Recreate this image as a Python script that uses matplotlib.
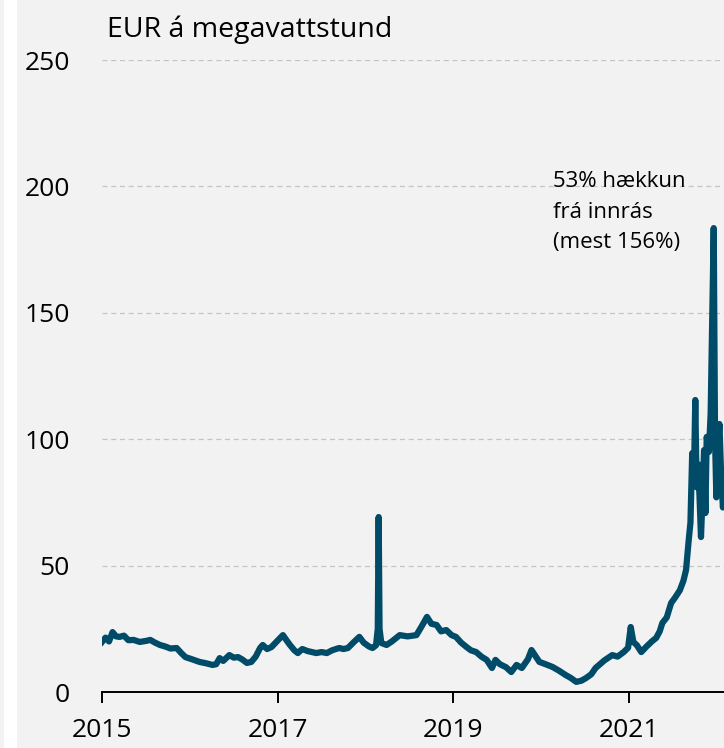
import matplotlib.pyplot as plt
import matplotlib.patches as mpatches
import numpy as np

plt.rcParams["font.family"] = ["Open Sans", "DejaVu Sans"]

# verð á rafmagni, EUR á MWh (lesið af mynd)
years = [2015.00, 2015.04, 2015.08, 2015.12, 2015.16, 2015.20, 2015.25, 2015.30, 2015.36, 2015.43,
         2015.50, 2015.55, 2015.60, 2015.66, 2015.72, 2015.78, 2015.85, 2015.90, 2015.95, 2016.02,
         2016.11, 2016.18, 2016.26, 2016.30, 2016.34, 2016.38, 2016.45, 2016.50, 2016.55, 2016.60,
         2016.65, 2016.70, 2016.75, 2016.80, 2016.83, 2016.88, 2016.93, 2016.99, 2017.06, 2017.10,
         2017.14, 2017.19, 2017.23, 2017.28, 2017.34, 2017.44, 2017.50, 2017.56, 2017.62, 2017.70,
         2017.75, 2017.80, 2017.86, 2017.93, 2017.98, 2018.04, 2018.08, 2018.12, 2018.14, 2018.15,
         2018.16, 2018.18, 2018.24, 2018.30, 2018.39, 2018.48, 2018.58, 2018.64, 2018.70, 2018.75,
         2018.81, 2018.86, 2018.92, 2018.98, 2019.03, 2019.09, 2019.15, 2019.20, 2019.26, 2019.32,
         2019.38, 2019.44, 2019.48, 2019.53, 2019.60, 2019.66, 2019.72, 2019.78, 2019.85, 2019.89,
         2019.93, 2019.98, 2020.05, 2020.13, 2020.20, 2020.28, 2020.34, 2020.40, 2020.46, 2020.51,
         2020.57, 2020.62, 2020.66, 2020.72, 2020.81, 2020.87, 2020.94, 2020.99, 2021.02, 2021.05,
         2021.09, 2021.14, 2021.20, 2021.26, 2021.31, 2021.35, 2021.38, 2021.43, 2021.48, 2021.53,
         2021.58, 2021.62, 2021.65, 2021.68, 2021.70, 2021.72, 2021.74, 2021.755, 2021.77, 2021.79,
         2021.82, 2021.84, 2021.855, 2021.87, 2021.885, 2021.91, 2021.93, 2021.965, 2021.98, 2021.995,
         2022.01, 2022.03, 2022.05, 2022.07, 2022.10]
prices = [19.8, 21.5, 20.0, 23.7, 22.0, 21.8, 22.3, 20.5, 20.6, 19.8,
          20.2, 20.6, 19.6, 18.6, 18.0, 17.2, 17.4, 15.5, 13.8, 13.0,
          11.9, 11.4, 10.7, 11.0, 13.4, 12.3, 14.6, 13.6, 13.8, 12.8,
          11.5, 11.9, 14.0, 17.4, 18.6, 17.0, 17.8, 20.0, 22.5, 20.5,
          18.6, 16.5, 15.4, 17.0, 16.2, 15.4, 15.8, 15.4, 16.5, 17.4,
          17.0, 17.4, 19.5, 21.8, 19.5, 18.0, 17.4, 18.5, 25.0, 69.2,
          25.0, 19.4, 18.6, 20.0, 22.5, 22.0, 22.5, 26.0, 29.7, 27.0,
          26.5, 24.0, 24.5, 22.5, 21.8, 19.5, 17.8, 16.5, 15.8, 14.0,
          12.7, 9.5, 12.7, 11.0, 9.8, 7.9, 10.7, 9.5, 13.0, 16.6,
          14.5, 11.9, 11.0, 9.9, 8.5, 6.7, 5.5, 4.0, 4.5, 5.5,
          7.0, 9.5, 10.7, 12.5, 14.6, 14.0, 15.8, 17.5, 25.7, 19.8,
          18.5, 15.8, 18.0, 20.0, 21.4, 24.0, 27.3, 29.5, 35.2, 37.6,
          40.3, 44.0, 48.3, 60.0, 67.0, 94.5, 85.0, 115.5, 81.0, 90.0,
          61.3, 80.0, 95.7, 70.8, 100.9, 95.0, 110.0, 183.5, 100.0, 77.0,
          95.0, 106.0, 85.0, 73.0, 90.0]

yticks = [0, 50, 100, 150, 200, 250]
xticks = [2015, 2017, 2019, 2021]

bg = "#f2f2f2"
fig = plt.figure(figsize=(7.24, 7.48), dpi=100)
fig.patch.set_facecolor(bg)
# hvít rönd vinstra megin
fig.patches.append(mpatches.Rectangle((4 / 724, 0), 13 / 724, 1, transform=fig.transFigure,
                                      facecolor="white", edgecolor="none"))

ax = fig.add_axes([102 / 724, 56 / 748, 622 / 724, 632 / 748])
ax.set_facecolor(bg)
ax.plot(years, prices, color="#004b68", lw=4.5, solid_joinstyle="round", zorder=3)

ax.set_xlim(2015, 2022.082)
ax.set_ylim(0, 250)
ax.set_yticks(yticks)
ax.set_xticks(xticks)
ax.set_xticklabels([str(x) for x in xticks])
ax.grid(axis="y", color="#c4c4c4", ls=(0, (4, 3)), lw=0.9)
ax.set_axisbelow(True)
for s in ["top", "right", "left"]:
    ax.spines[s].set_visible(False)
ax.spines["bottom"].set_linewidth(1.4)
ax.spines["bottom"].set_zorder(4)
ax.tick_params(axis="y", length=0, pad=23, labelsize=19)
ax.tick_params(axis="x", length=8, width=1.4, pad=11, labelsize=19, direction="out")

fig.text(107 / 724, 1 - 30 / 748, "EUR á megavattstund", fontsize=20.5, va="center", ha="left")
fig.text(553 / 724, 1 - 212 / 748, "53% hækkun\nfrá innrás\n(mest 156%)", fontsize=16,
         va="center", ha="left", linespacing=1.6)

fig.savefig("out.png", dpi=100, facecolor=bg)
